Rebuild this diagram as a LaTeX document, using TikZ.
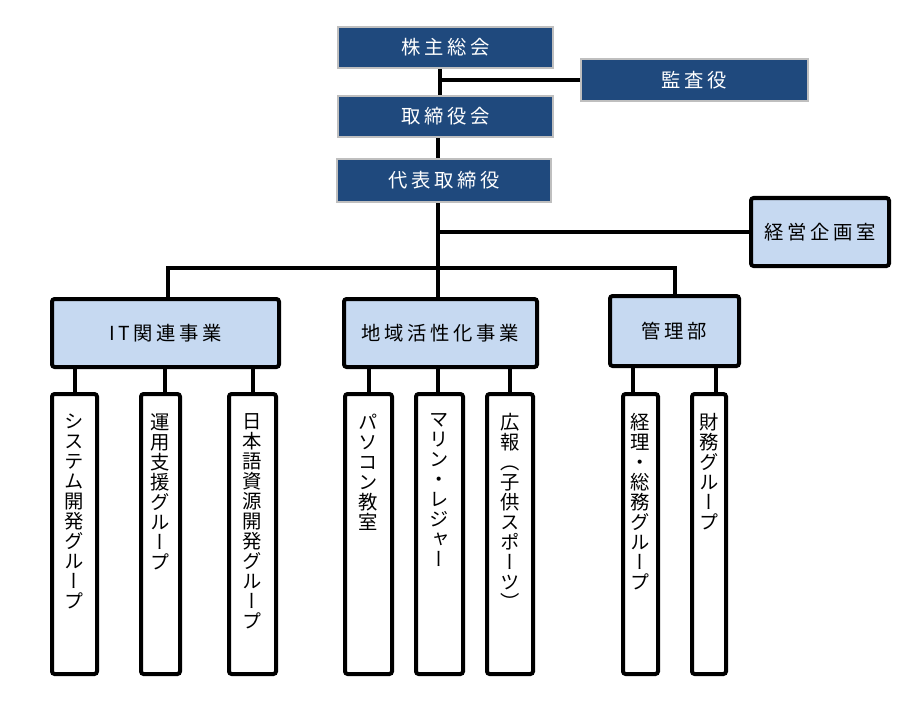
\documentclass[tikz,border=0pt]{standalone}
\usepackage{fontspec}
\newfontfamily\jpfont[LetterSpace=19]{Noto Sans CJK JP}
\newfontfamily\tatefont[RawFeature=+vert]{Noto Sans CJK JP}
\definecolor{boardblue}{RGB}{31,73,125}
\definecolor{boardgray}{RGB}{191,191,191}
\definecolor{deptblue}{RGB}{198,217,241}
\def\tateloop#1{\ifx#1\relax\else\hbox to 1em{\hss#1\hss}\expandafter\tateloop\fi}
\newcommand{\tate}[1]{\edef\tatetmp{#1}\vtop{\tatefont\fontsize{14.5pt}{15pt}\selectfont\baselineskip=15pt\expandafter\tateloop\tatetmp\relax}}
\tikzstyle{board} = [draw=boardgray, line width=1.5pt, fill=boardblue, text=white, font=\jpfont\fontsize{14.5pt}{16pt}\selectfont]
\tikzstyle{dept} = [draw, line width=3pt, rounded corners=2pt, fill=deptblue, font=\jpfont\fontsize{14.5pt}{16pt}\selectfont]
\tikzstyle{group} = [draw, line width=3pt, rounded corners=2pt, fill=white, minimum height=210pt]
\tikzstyle{link} = [draw, line width=3pt]

\begin{document}
\begin{tikzpicture}[x=0.75pt,y=-0.75pt]
\useasboundingbox (0,0) rectangle (919,702);


%%% %%%
% Board
%%% %%%


\node[board,minimum width=161.25pt,minimum height=30.75pt](kabu) at (445.5,47.5){株主総会};
\node[board,minimum width=170.25pt,minimum height=31.5pt](kansa) at (694.5,80){監査役};
\node[board,minimum width=161.25pt,minimum height=30.75pt](torikai) at (445.5,116.5){取締役会};
\node[board,minimum width=160.5pt,minimum height=32.25pt](daihyo) at (444,180.5){代表取締役};


%%% %%%
% Departments
%%% %%%


\node[dept,minimum width=103.5pt,minimum height=51pt](keiei) at (820,232){経営企画室};
\node[dept,minimum width=170.25pt,minimum height=51pt](IT) at (165.5,333){IT関連事業};
\node[dept,minimum width=144.75pt,minimum height=51pt](chiiki) at (440.5,333){地域活性化事業};
\node[dept,minimum width=96.75pt,minimum height=52.5pt](kanri) at (674.5,331){管理部};


%%% %%%
% Groups
%%% %%%


\foreach \x/\w/\i [count=\n] in
{74.5/33.75pt/システム開発グループ,160.5/29.25pt/運用支援グループ,252.5/35.25pt/日本語資源開発グループ}
\node[group,minimum width=\w,label={[anchor=north,inner sep=0pt,yshift=-16pt]north:\tate{\i}}](ITG\n) at (\x,534){};

\foreach \x/\w/\i [count=\n] in
{368.5/35.25pt/パソコン教室,439.5/35.25pt/マリン・レジャー,510/34.5pt/広報（子供スポーツ）}
\node[group,minimum width=\w,label={[anchor=north,inner sep=0pt,yshift=-16pt]north:\tate{\i}}](CKG\n) at (\x,534){};

\foreach \x/\w/\i [count=\n] in
{640.5/26.25pt/経理・総務グループ,709/25.5pt/財務グループ}
\node[group,minimum width=\w,label={[anchor=north,inner sep=0pt,yshift=-16pt]north:\tate{\i}}](KRG\n) at (\x,534){};


%%%
% Lines: Board
%%%

\draw [link] ([xshift=-4.1pt]kabu.south) -- ([xshift=-4.1pt]torikai.north);
\draw [link] ([xshift=-4.1pt]kabu.south |- kansa.west) -- (kansa.west);
\draw [link] ([xshift=-5.6pt]torikai.south) -- ([xshift=-5.6pt]torikai.south |- daihyo.north);

%%%
% Lines: Departments
%%%

\coordinate (trunk) at ([xshift=-4.5pt]daihyo.south);
\coordinate (bus) at (trunk |- 0,268);
\draw [link] (trunk) -- (trunk |- chiiki.north);
\draw [link] (trunk |- keiei.west) -- (keiei.west);
\draw [link] ([xshift=1.9pt]IT.north) |- (bus) -| (kanri.north);

%%%
% Lines: Groups
%%%

\draw [link] (ITG1.north) -- (ITG1.north |- IT.south);
\draw [link] ([xshift=3.4pt]ITG2.north) -- ([xshift=3.4pt]ITG2.north |- IT.south);
\draw [link] (ITG3.north) -- (ITG3.north |- IT.south);

\draw [link] (CKG1.north) -- (CKG1.north |- chiiki.south);
\draw [link] ([xshift=-1.1pt]CKG2.north) -- ([xshift=-1.1pt]CKG2.north |- chiiki.south);
\draw [link] (CKG3.north) -- (CKG3.north |- chiiki.south);

\draw [link] ([xshift=-5.6pt]KRG1.north) -- ([xshift=-5.6pt]KRG1.north |- kanri.south);
\draw [link] ([xshift=5.3pt]KRG2.north) -- ([xshift=5.3pt]KRG2.north |- kanri.south);


\end{tikzpicture}
\end{document}
